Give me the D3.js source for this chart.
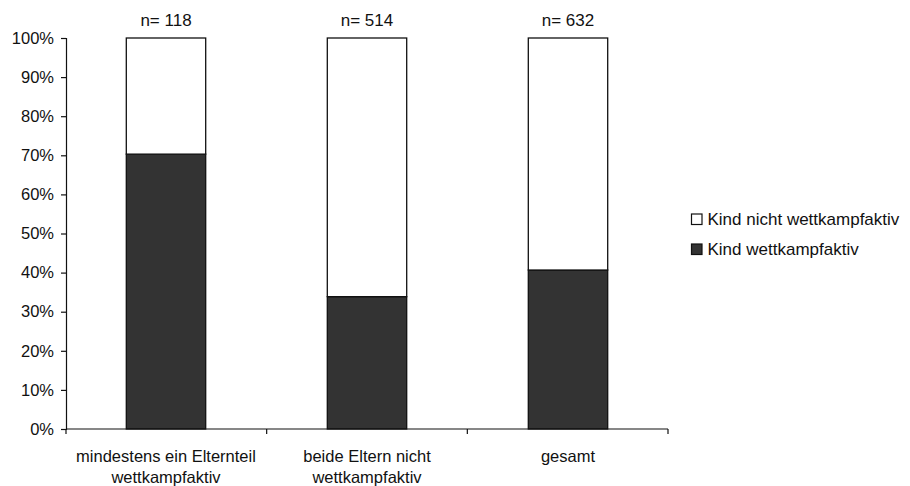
<!DOCTYPE html>
<html>
<head>
<meta charset="utf-8">
<script src="https://cdn.jsdelivr.net/npm/d3@7"></script>
<style>
  html, body { margin: 0; padding: 0; background: #fff; }
  text { font-family: "Liberation Sans", Arial, Helvetica, sans-serif; fill: #111; }
</style>
</head>
<body>
<svg id="chart" width="910" height="486"></svg>
<script>
// Group labels (two lines each), sample sizes and shares of competitive children
const categories = [
  ["mindestens ein Elternteil", "wettkampfaktiv"],
  ["beide Eltern nicht", "wettkampfaktiv"],
  ["gesamt"]
];
const sampleSizes = [118, 514, 632];
const shareActive = [0.703, 0.3385, 0.4066];          // Kind wettkampfaktiv
const shareInactive = shareActive.map(v => 1 - v);    // Kind nicht wettkampfaktiv
const seriesNames = ["Kind nicht wettkampfaktiv", "Kind wettkampfaktiv"];
const yTicks = [0, 0.1, 0.2, 0.3, 0.4, 0.5, 0.6, 0.7, 0.8, 0.9, 1.0];

const svg = d3.select("#chart");
const margin = { left: 66, right: 242, top: 38, bottom: 57 };
const W = 910, H = 486;

const x = d3.scaleBand()
  .domain(d3.range(categories.length))
  .range([margin.left, W - margin.right])
  .paddingInner(0.605)
  .paddingOuter(0.3);

const y = d3.scaleLinear()
  .domain([0, 1])
  .range([H - margin.bottom, margin.top]);

// Stacked rows: dark segment at the bottom, white on top
const rows = d3.range(categories.length).map(i => ({
  i, active: shareActive[i], inactive: shareInactive[i]
}));
const stack = d3.stack().keys(["active", "inactive"])(rows);
const fills = { active: "#333333", inactive: "#ffffff" };

svg.append("g").selectAll("g")
  .data(stack)
  .join("g")
  .attr("fill", d => fills[d.key])
  .selectAll("rect")
  .data(d => d)
  .join("rect")
  .attr("x", d => x(d.data.i))
  .attr("width", x.bandwidth())
  .attr("y", d => y(d[1]))
  .attr("height", d => y(d[0]) - y(d[1]))
  .attr("stroke", "#111")
  .attr("stroke-width", 1.3);

// Y axis
const yAxis = svg.append("g")
  .attr("transform", `translate(${margin.left},0)`)
  .call(d3.axisLeft(y).tickValues(yTicks).tickFormat(d3.format(".0%")).tickSize(5).tickPadding(7));
yAxis.select(".domain").attr("stroke", "#111").attr("stroke-width", 1.2);
yAxis.selectAll(".tick line").attr("stroke", "#111").attr("stroke-width", 1.2);
yAxis.selectAll(".tick text")
  .style("font-family", '"Liberation Sans", Arial, sans-serif')
  .style("font-size", "16.5px")
  .attr("fill", "#111");

// X axis: baseline with ticks between groups
const xLeft = margin.left, xRight = W - margin.right;
const boundaries = d3.range(categories.length + 1)
  .map(k => xLeft + k * (xRight - xLeft) / categories.length);
svg.append("line")
  .attr("x1", xLeft).attr("x2", xRight)
  .attr("y1", y(0)).attr("y2", y(0))
  .attr("stroke", "#111").attr("stroke-width", 1.2);
svg.append("g").selectAll("line")
  .data(boundaries)
  .join("line")
  .attr("x1", d => d).attr("x2", d => d)
  .attr("y1", y(0)).attr("y2", y(0) + 5)
  .attr("stroke", "#111").attr("stroke-width", 1.2);

// Category labels
svg.append("g").selectAll("text")
  .data(categories)
  .join("text")
  .attr("text-anchor", "middle")
  .attr("x", (d, i) => x(i) + x.bandwidth() / 2)
  .attr("y", y(0) + 32.5)
  .style("font-size", "16.5px")
  .selectAll("tspan")
  .data(d => d)
  .join("tspan")
  .attr("x", function () { return d3.select(this.parentNode).attr("x"); })
  .attr("dy", (d, j) => j === 0 ? 0 : 21.5)
  .text(d => d);

// Sample sizes above the bars
svg.append("g").selectAll("text")
  .data(sampleSizes)
  .join("text")
  .attr("text-anchor", "middle")
  .attr("x", (d, i) => x(i) + x.bandwidth() / 2)
  .attr("y", y(1) - 12)
  .style("font-size", "17px")
  .text(d => `n= ${d}`);

// Legend
const legend = svg.append("g").attr("transform", "translate(691,210)");
const legendFills = ["#ffffff", "#333333"];
const item = legend.selectAll("g")
  .data(seriesNames)
  .join("g")
  .attr("transform", (d, i) => `translate(0,${i * 30})`);
item.append("rect")
  .attr("x", 0.5).attr("y", 4)
  .attr("width", 10.5).attr("height", 10.5)
  .attr("fill", (d, i) => legendFills[i])
  .attr("stroke", "#111").attr("stroke-width", 1.2);
item.append("text")
  .attr("x", 16.5).attr("y", 14.5)
  .style("font-size", "17px")
  .text(d => d);
</script>
</body>
</html>
